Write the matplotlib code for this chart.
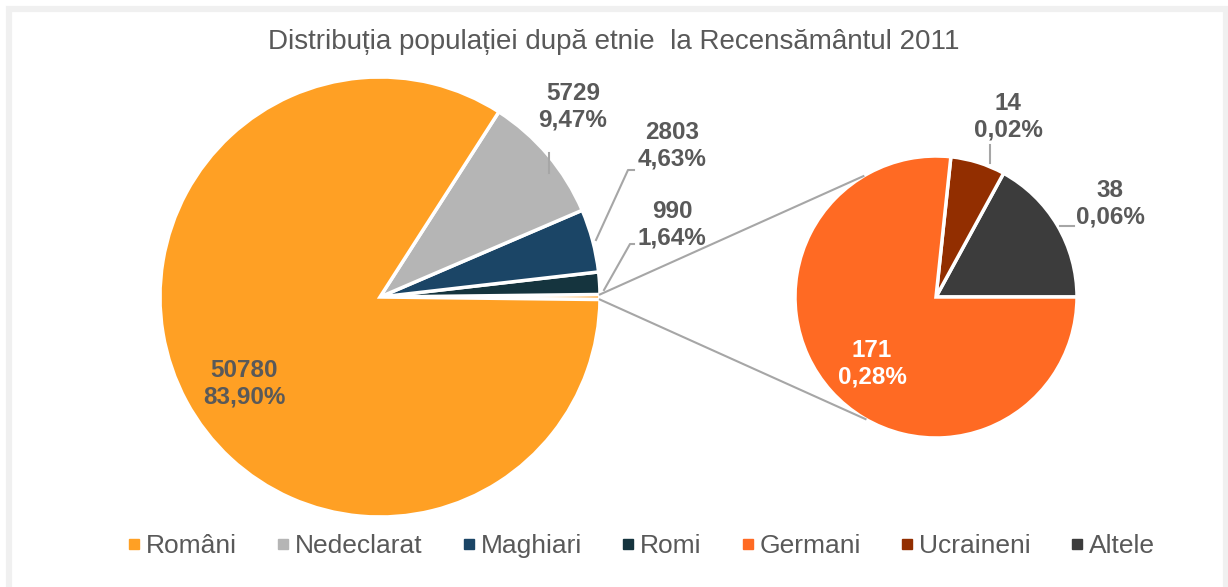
import matplotlib
matplotlib.use("Agg")
import matplotlib.pyplot as plt
import numpy as np
from matplotlib.patches import Rectangle
from matplotlib.lines import Line2D

plt.rcParams['font.family'] = ['Liberation Sans', 'DejaVu Sans']

title = "Distribuția populației după etnie  la Recensământul 2011"
main_cats = ["Români", "Nedeclarat", "Maghiari", "Romi"]
main_vals = [50780, 5729, 2803, 990]
sub_cats = ["Germani", "Ucraineni", "Altele"]
sub_vals = [171, 14, 38]
main_colors = ["#FFA024", "#B5B5B5", "#1B4566", "#15343E"]
sub_colors = ["#FF6A23", "#922E00", "#3C3C3C"]

total = sum(main_vals) + sum(sub_vals)
other = sum(sub_vals)

def fmt(v):
    return f"{v}\n{100 * v / total:.2f}%".replace(".", ",")

W, H = 1228, 587
fig = plt.figure(figsize=(W / 100, H / 100), dpi=100)
ax = fig.add_axes([0, 0, 1, 1])

# frame
fig.patches.append(Rectangle((9 / W, -0.05), (1226 - 9) / W, (H - 10 + 30) / H,
                             transform=fig.transFigure, fill=False,
                             edgecolor="#F0F0F0", linewidth=4.5, zorder=0))

# main pie: counterclockwise from right: other, Romi, Maghiari, Nedeclarat, Români
c1 = (380, H - 297)
r1 = 220
vals1 = [other] + main_vals[::-1]
cols1 = ["#FFA024"] + main_colors[::-1]
start1 = -180 * other / total
ax.pie(vals1, colors=cols1, startangle=start1, counterclock=True, center=c1, radius=r1,
       wedgeprops=dict(edgecolor="white", linewidth=2.5), frame=True)

# secondary pie: Altele, Ucraineni, Germani counterclockwise from 0
c2 = (936, H - 297)
r2 = 141
vals2 = sub_vals[::-1]
cols2 = sub_colors[::-1]
ax.pie(vals2, colors=cols2, startangle=0, counterclock=True, center=c2, radius=r2,
       wedgeprops=dict(edgecolor="white", linewidth=2.5), frame=True)
ax.set_xlim(0, W)
ax.set_ylim(0, H)
ax.set_aspect('equal')
ax.axis('off')

# connector lines
a = np.deg2rad(180 * other / total)
for sgn, ang in [(1, 121), (-1, -120)]:
    x0 = c1[0] + r1 * np.cos(sgn * a)
    y0 = c1[1] + r1 * np.sin(sgn * a)
    x1 = c2[0] + r2 * np.cos(np.deg2rad(ang))
    y1 = c2[1] + r2 * np.sin(np.deg2rad(ang))
    ax.plot([x0, x1], [y0, y1], color="#A6A6A6", lw=1.5, zorder=1)

lab_col = "#595959"
fs = 17.5
kw = dict(fontsize=fs, fontweight='bold', color=lab_col, ha='center', va='center',
          linespacing=1.2)

# main labels
ax.text(244, H - 384, fmt(main_vals[0]), **kw)
ax.text(573, H - 107, fmt(main_vals[1]), **kw)
ax.text(672, H - 146, fmt(main_vals[2]), **kw)
ax.text(672, H - 225, fmt(main_vals[3]), **kw)
# sub labels
ax.text(872, H - 364, fmt(sub_vals[0]), **dict(kw, color="white"))
ax.text(1008, H - 117, fmt(sub_vals[1]), **kw)
ax.text(1110, H - 204, fmt(sub_vals[2]), **kw)

# leader lines
lc = dict(color="#A6A6A6", lw=1.5)
ax.plot([549, 549], [H - 153, H - 173], **lc)
ax.plot([634, 628, 596], [H - 170, H - 170, H - 240], **lc)
ax.plot([634, 630, 604], [H - 244, H - 244, H - 290], **lc)
ax.plot([990, 990], [H - 145, H - 163], **lc)
ax.plot([1060, 1074], [H - 226, H - 226], **lc)

ax.text(614, H - 42, title, fontsize=20, color=lab_col, ha='center', va='center')

handles = [Line2D([], [], marker='s', linestyle='none', markersize=7, color=c)
           for c in main_colors + sub_colors]
fig.legend(handles, main_cats + sub_cats, loc='center', bbox_to_anchor=(641 / W, 1 - 546 / H),
           ncol=7, frameon=False, fontsize=19, handlelength=0.5, handletextpad=0.2,
           columnspacing=1.5, labelcolor=lab_col)

fig.savefig("out.png", dpi=100)
